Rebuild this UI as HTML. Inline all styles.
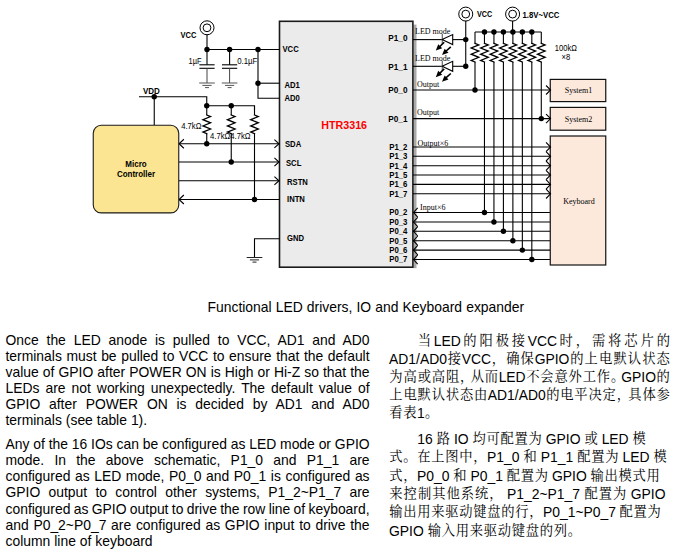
<!DOCTYPE html>
<html><head><meta charset="utf-8"><title>HTR3316 application</title>
<style>
html,body{margin:0;padding:0;background:#fff;}
body{width:676px;height:559px;position:relative;overflow:hidden;font-family:"Liberation Sans",sans-serif;color:#000;}
.l{position:absolute;white-space:pre;font-size:13.9px;line-height:1.15;}
.z{position:absolute;display:flex;align-items:flex-start;font-size:13.9px;line-height:1.15;white-space:pre;}
.z span{flex:none;display:block;}
.z span.c{width:14px;font-size:13.3px;line-height:16px;text-align:center;word-spacing:0;font-family:"Liberation Serif","Noto Serif CJK SC",serif;}
</style></head><body>
<svg width="676" height="290" viewBox="0 0 676 290" style="position:absolute;left:0;top:0">
<rect x="413.5" y="24.6" width="3" height="243.6" fill="#a9a9a9"/>
<rect x="279.5" y="21.3" width="133.39999999999998" height="245.89999999999998" fill="#ebebeb" stroke="#1a1a1a" stroke-width="1.6"/>
<circle cx="207" cy="27.8" r="7" fill="#fff" stroke="#000" stroke-width="1"/>
<circle cx="207" cy="27.8" r="3.9" fill="#fff" stroke="#000" stroke-width="1"/>
<path d="M207 34.4L207 49.5" stroke="#000" stroke-width="1.1" fill="none"/>
<path d="M207 49.5L279.5 49.5" stroke="#000" stroke-width="1.1" fill="none"/>
<path d="M207 49.5L207 64.8" stroke="#000" stroke-width="1.1" fill="none"/>
<path d="M199.4 64.8L214.6 64.8" stroke="#000" stroke-width="1.1" fill="none"/>
<path d="M199.4 68.3L214.6 68.3" stroke="#000" stroke-width="1.1" fill="none"/>
<path d="M207 68.3L207 83" stroke="#444" stroke-width="1" fill="none"/>
<path d="M199.2 83L214.8 83" stroke="#555" stroke-width="1" fill="none"/>
<path d="M202.4 85.4L211.6 85.4" stroke="#555" stroke-width="1" fill="none"/>
<path d="M205 87.6L209 87.6" stroke="#555" stroke-width="1" fill="none"/>
<path d="M229.6 49.5L229.6 64.8" stroke="#000" stroke-width="1.1" fill="none"/>
<path d="M222.0 64.8L237.2 64.8" stroke="#000" stroke-width="1.1" fill="none"/>
<path d="M222.0 68.3L237.2 68.3" stroke="#000" stroke-width="1.1" fill="none"/>
<path d="M229.6 68.3L229.6 83" stroke="#444" stroke-width="1" fill="none"/>
<path d="M221.79999999999998 83L237.4 83" stroke="#555" stroke-width="1" fill="none"/>
<path d="M225.0 85.4L234.2 85.4" stroke="#555" stroke-width="1" fill="none"/>
<path d="M227.6 87.6L231.6 87.6" stroke="#555" stroke-width="1" fill="none"/>
<circle cx="207" cy="49.5" r="2.7" fill="#000"/>
<circle cx="229.6" cy="49.5" r="2.7" fill="#000"/>
<circle cx="258" cy="49.5" r="2.7" fill="#000"/>
<path d="M258 49.5L258 98.3L279.5 98.3" stroke="#000" stroke-width="1.1" fill="none" />
<path d="M258 83.2L279.5 83.2" stroke="#000" stroke-width="1.1" fill="none"/>
<circle cx="258" cy="83.2" r="2.7" fill="#000"/>
<text transform="translate(180.5 37.9) scale(0.8174 1)" font-family="Liberation Sans" font-size="9.20" font-weight="bold" fill="#000" text-anchor="start" >VCC</text>
<text transform="translate(188.6 64.2) scale(0.8087 1)" font-family="Liberation Sans" font-size="9.20" font-weight="normal" fill="#000" text-anchor="start" >1µF</text>
<text transform="translate(237.2 64.2) scale(0.8522 1)" font-family="Liberation Sans" font-size="9.20" font-weight="normal" fill="#000" text-anchor="start" >0.1µF</text>
<path d="M139 96.75L206.75 96.75L206.75 105.75" stroke="#000" stroke-width="1.1" fill="none" />
<path d="M154.25 96.75L154.25 125" stroke="#000" stroke-width="1.1" fill="none"/>
<circle cx="154.25" cy="96.75" r="2.7" fill="#000"/>
<text transform="translate(143 94) scale(0.8696 1)" font-family="Liberation Sans" font-size="9.20" font-weight="bold" fill="#000" text-anchor="start" >VDD</text>
<path d="M206.75 105.75L254.5 105.75L254.5 110" stroke="#000" stroke-width="1.1" fill="none" />
<path d="M206.75 105.75L206.75 115" stroke="#000" stroke-width="1.1" fill="none" />
<path d="M206.75 133.7L206.75 143.75" stroke="#000" stroke-width="1.1" fill="none" />
<path d="M206.75 115L210.55 116.6L202.95 119.7L210.55 122.8L202.95 125.9L210.55 129.0L202.95 132.1L206.75 133.7" stroke="#000" stroke-width="1.3" fill="none" stroke-linejoin="miter" stroke-linecap="square"/>
<path d="M231.25 105.75L231.25 115" stroke="#000" stroke-width="1.1" fill="none" />
<path d="M231.25 133.7L231.25 162" stroke="#000" stroke-width="1.1" fill="none" />
<path d="M231.25 115L235.05 116.6L227.45 119.7L235.05 122.8L227.45 125.9L235.05 129.0L227.45 132.1L231.25 133.7" stroke="#000" stroke-width="1.3" fill="none" stroke-linejoin="miter" stroke-linecap="square"/>
<path d="M254.5 105.75L254.5 115" stroke="#000" stroke-width="1.1" fill="none" />
<path d="M254.5 133.7L254.5 199.5" stroke="#000" stroke-width="1.1" fill="none" />
<path d="M254.5 115L258.3 116.6L250.7 119.7L258.3 122.8L250.7 125.9L258.3 129.0L250.7 132.1L254.5 133.7" stroke="#000" stroke-width="1.3" fill="none" stroke-linejoin="miter" stroke-linecap="square"/>
<circle cx="206.75" cy="105.75" r="2.7" fill="#000"/>
<circle cx="231.25" cy="105.75" r="2.7" fill="#000"/>
<circle cx="206.75" cy="143.75" r="2.7" fill="#000"/>
<circle cx="231.25" cy="162" r="2.7" fill="#000"/>
<circle cx="254.5" cy="199.5" r="2.7" fill="#000"/>
<text transform="translate(181.2 129) scale(0.8348 1)" font-family="Liberation Sans" font-size="9.20" font-weight="normal" fill="#000" text-anchor="start" >4.7kΩ</text>
<text transform="translate(210 138.8) scale(0.8348 1)" font-family="Liberation Sans" font-size="9.20" font-weight="normal" fill="#000" text-anchor="start" >4.7kΩ</text>
<text transform="translate(230.3 138.8) scale(0.8348 1)" font-family="Liberation Sans" font-size="9.20" font-weight="normal" fill="#000" text-anchor="start" >4.7kΩ</text>
<path d="M178.75 143.75L279.5 143.75" stroke="#000" stroke-width="1.1" fill="none"/>
<path d="M178.75 162L279.5 162" stroke="#000" stroke-width="1.1" fill="none"/>
<path d="M178.75 180.75L279.5 180.75" stroke="#000" stroke-width="1.1" fill="none"/>
<path d="M178.75 199.5L279.5 199.5" stroke="#000" stroke-width="1.1" fill="none"/>
<path d="M183.85000000000002 139.25L179.05 143.75L183.85000000000002 148.25" stroke="#000" stroke-width="1.1" fill="none" />
<path d="M183.85000000000002 195.0L179.05 199.5L183.85000000000002 204.0" stroke="#000" stroke-width="1.1" fill="none" />
<path d="M274.4 139.55L279.0 143.75L274.4 147.95" stroke="#000" stroke-width="1.1" fill="none" />
<path d="M274.4 157.8L279.0 162L274.4 166.2" stroke="#000" stroke-width="1.1" fill="none" />
<path d="M274.4 176.55L279.0 180.75L274.4 184.95" stroke="#000" stroke-width="1.1" fill="none" />
<rect x="93.25" y="125.3" width="85.5" height="87.60000000000001" rx="8" ry="8" fill="#fce592" stroke="#1a1a1a" stroke-width="1.1"/>
<text transform="translate(136 167) scale(0.8696 1)" font-family="Liberation Sans" font-size="9.20" font-weight="bold" fill="#000" text-anchor="middle" >Micro</text>
<text transform="translate(136 177) scale(0.8696 1)" font-family="Liberation Sans" font-size="9.20" font-weight="bold" fill="#000" text-anchor="middle" >Controller</text>
<path d="M279.5 238.75L254.5 238.75L254.5 257.5" stroke="#000" stroke-width="1.1" fill="none" />
<path d="M246.7 257.5L262.3 257.5" stroke="#222" stroke-width="1" fill="none"/>
<path d="M249.9 259.9L259.1 259.9" stroke="#222" stroke-width="1" fill="none"/>
<path d="M252.5 262.1L256.5 262.1" stroke="#222" stroke-width="1" fill="none"/>
<text transform="translate(282.5 52) scale(0.8348 1)" font-family="Liberation Sans" font-size="9.20" font-weight="bold" fill="#000" text-anchor="start" >VCC</text>
<text transform="translate(284.5 87.6) scale(0.8348 1)" font-family="Liberation Sans" font-size="9.20" font-weight="bold" fill="#000" text-anchor="start" >AD1</text>
<text transform="translate(284.5 100.8) scale(0.8348 1)" font-family="Liberation Sans" font-size="9.20" font-weight="bold" fill="#000" text-anchor="start" >AD0</text>
<text transform="translate(285 147) scale(0.8348 1)" font-family="Liberation Sans" font-size="9.20" font-weight="bold" fill="#000" text-anchor="start" >SDA</text>
<text transform="translate(286 166.3) scale(0.8348 1)" font-family="Liberation Sans" font-size="9.20" font-weight="bold" fill="#000" text-anchor="start" >SCL</text>
<text transform="translate(287 184.5) scale(0.8348 1)" font-family="Liberation Sans" font-size="9.20" font-weight="bold" fill="#000" text-anchor="start" >RSTN</text>
<text transform="translate(287 201.8) scale(0.8348 1)" font-family="Liberation Sans" font-size="9.20" font-weight="bold" fill="#000" text-anchor="start" >INTN</text>
<text transform="translate(287 240.8) scale(0.8348 1)" font-family="Liberation Sans" font-size="9.20" font-weight="bold" fill="#000" text-anchor="start" >GND</text>
<text transform="translate(321.2 128.9) scale(0.9750 1)" font-family="Liberation Sans" font-size="11.00" font-weight="bold" fill="#ff0000" text-anchor="start" >HTR3316</text>
<circle cx="465.75" cy="14.1" r="7" fill="#fff" stroke="#000" stroke-width="1"/>
<circle cx="465.75" cy="14.1" r="3.9" fill="#fff" stroke="#000" stroke-width="1"/>
<path d="M465.75 20.8L465.75 66.25" stroke="#000" stroke-width="1.1" fill="none"/>
<circle cx="512.6" cy="14.1" r="7" fill="#fff" stroke="#000" stroke-width="1"/>
<circle cx="512.6" cy="14.1" r="3.9" fill="#fff" stroke="#000" stroke-width="1"/>
<path d="M512.6 20.8L512.6 32" stroke="#000" stroke-width="1.1" fill="none"/>
<text transform="translate(477 16.9) scale(0.7826 1)" font-family="Liberation Sans" font-size="9.20" font-weight="bold" fill="#000" text-anchor="start" >VCC</text>
<text transform="translate(522.5 17.8) scale(0.8435 1)" font-family="Liberation Sans" font-size="9.20" font-weight="bold" fill="#000" text-anchor="start" >1.8V~VCC</text>
<path d="M412.9 39.6L442.3 39.6" stroke="#000" stroke-width="1.1" fill="none"/>
<path d="M452.6 39.6L465.75 39.6" stroke="#000" stroke-width="1.1" fill="none"/>
<path d="M442.3 34.0L442.3 44.0" stroke="#666" stroke-width="1.2" fill="none"/>
<path d="M442.1 39.6L452.7 34.6L452.7 44.6L442.1 39.6" stroke="#000" stroke-width="1.1" fill="#fff" />
<path d="M444.2 42.2L438.3 48.0" stroke="#000" stroke-width="1.6" fill="none"/>
<path d="M435.80 50.50L438.24 44.15L442.18 48.13Z" fill="#000"/>
<path d="M450.8 46.800000000000004L444.5 52.5" stroke="#000" stroke-width="1.6" fill="none"/>
<path d="M442.00 55.00L444.63 48.72L448.44 52.82Z" fill="#000"/>
<circle cx="465.75" cy="39.6" r="2.7" fill="#000"/>
<path d="M412.9 66.3L442.3 66.3" stroke="#000" stroke-width="1.1" fill="none"/>
<path d="M452.6 66.3L465.75 66.3" stroke="#000" stroke-width="1.1" fill="none"/>
<path d="M442.3 60.699999999999996L442.3 70.7" stroke="#666" stroke-width="1.2" fill="none"/>
<path d="M442.1 66.3L452.7 61.3L452.7 71.3L442.1 66.3" stroke="#000" stroke-width="1.1" fill="#fff" />
<path d="M444.2 68.89999999999999L438.3 74.7" stroke="#000" stroke-width="1.6" fill="none"/>
<path d="M435.80 77.20L438.24 70.85L442.18 74.83Z" fill="#000"/>
<path d="M450.8 73.5L444.5 79.2" stroke="#000" stroke-width="1.6" fill="none"/>
<path d="M442.00 81.70L444.63 75.42L448.44 79.52Z" fill="#000"/>
<circle cx="465.75" cy="66.3" r="2.7" fill="#000"/>
<path d="M475.0 32L541.29 32" stroke="#000" stroke-width="1.1" fill="none"/>
<path d="M475.0 32L475.0 43.3" stroke="#000" stroke-width="1.1" fill="none" />
<path d="M475.0 62.0L475.0 90" stroke="#000" stroke-width="1.1" fill="none" />
<path d="M475.0 43.3L478.8 44.9L471.2 48.0L478.8 51.1L471.2 54.2L478.8 57.3L471.2 60.4L475.0 62.0" stroke="#000" stroke-width="1.3" fill="none" stroke-linejoin="miter" stroke-linecap="square"/>
<circle cx="475.0" cy="90" r="2.7" fill="#000"/>
<path d="M484.47 32L484.47 43.3" stroke="#000" stroke-width="1.1" fill="none" />
<path d="M484.47 62.0L484.47 212.5" stroke="#000" stroke-width="1.1" fill="none" />
<path d="M484.47 43.3L488.27000000000004 44.9L480.67 48.0L488.27000000000004 51.1L480.67 54.2L488.27000000000004 57.3L480.67 60.4L484.47 62.0" stroke="#000" stroke-width="1.3" fill="none" stroke-linejoin="miter" stroke-linecap="square"/>
<circle cx="484.47" cy="212.5" r="2.7" fill="#000"/>
<circle cx="484.47" cy="32" r="2.7" fill="#000"/>
<path d="M493.94 32L493.94 43.3" stroke="#000" stroke-width="1.1" fill="none" />
<path d="M493.94 62.0L493.94 222" stroke="#000" stroke-width="1.1" fill="none" />
<path d="M493.94 43.3L497.74 44.9L490.14 48.0L497.74 51.1L490.14 54.2L497.74 57.3L490.14 60.4L493.94 62.0" stroke="#000" stroke-width="1.3" fill="none" stroke-linejoin="miter" stroke-linecap="square"/>
<circle cx="493.94" cy="222" r="2.7" fill="#000"/>
<circle cx="493.94" cy="32" r="2.7" fill="#000"/>
<path d="M503.41 32L503.41 43.3" stroke="#000" stroke-width="1.1" fill="none" />
<path d="M503.41 62.0L503.41 231.3" stroke="#000" stroke-width="1.1" fill="none" />
<path d="M503.41 43.3L507.21000000000004 44.9L499.61 48.0L507.21000000000004 51.1L499.61 54.2L507.21000000000004 57.3L499.61 60.4L503.41 62.0" stroke="#000" stroke-width="1.3" fill="none" stroke-linejoin="miter" stroke-linecap="square"/>
<circle cx="503.41" cy="231.3" r="2.7" fill="#000"/>
<circle cx="503.41" cy="32" r="2.7" fill="#000"/>
<path d="M512.88 32L512.88 43.3" stroke="#000" stroke-width="1.1" fill="none" />
<path d="M512.88 62.0L512.88 240.7" stroke="#000" stroke-width="1.1" fill="none" />
<path d="M512.88 43.3L516.68 44.9L509.08 48.0L516.68 51.1L509.08 54.2L516.68 57.3L509.08 60.4L512.88 62.0" stroke="#000" stroke-width="1.3" fill="none" stroke-linejoin="miter" stroke-linecap="square"/>
<circle cx="512.88" cy="240.7" r="2.7" fill="#000"/>
<circle cx="512.88" cy="32" r="2.7" fill="#000"/>
<path d="M522.35 32L522.35 43.3" stroke="#000" stroke-width="1.1" fill="none" />
<path d="M522.35 62.0L522.35 250.1" stroke="#000" stroke-width="1.1" fill="none" />
<path d="M522.35 43.3L526.15 44.9L518.5500000000001 48.0L526.15 51.1L518.5500000000001 54.2L526.15 57.3L518.5500000000001 60.4L522.35 62.0" stroke="#000" stroke-width="1.3" fill="none" stroke-linejoin="miter" stroke-linecap="square"/>
<circle cx="522.35" cy="250.1" r="2.7" fill="#000"/>
<circle cx="522.35" cy="32" r="2.7" fill="#000"/>
<path d="M531.82 32L531.82 43.3" stroke="#000" stroke-width="1.1" fill="none" />
<path d="M531.82 62.0L531.82 259.5" stroke="#000" stroke-width="1.1" fill="none" />
<path d="M531.82 43.3L535.62 44.9L528.0200000000001 48.0L535.62 51.1L528.0200000000001 54.2L535.62 57.3L528.0200000000001 60.4L531.82 62.0" stroke="#000" stroke-width="1.3" fill="none" stroke-linejoin="miter" stroke-linecap="square"/>
<circle cx="531.82" cy="259.5" r="2.7" fill="#000"/>
<circle cx="531.82" cy="32" r="2.7" fill="#000"/>
<path d="M541.29 32L541.29 43.3" stroke="#000" stroke-width="1.1" fill="none" />
<path d="M541.29 62.0L541.29 118.6" stroke="#000" stroke-width="1.1" fill="none" />
<path d="M541.29 43.3L545.0899999999999 44.9L537.49 48.0L545.0899999999999 51.1L537.49 54.2L545.0899999999999 57.3L537.49 60.4L541.29 62.0" stroke="#000" stroke-width="1.3" fill="none" stroke-linejoin="miter" stroke-linecap="square"/>
<circle cx="541.29" cy="118.6" r="2.7" fill="#000"/>
<path d="M412.9 90L550.25 90" stroke="#000" stroke-width="1.1" fill="none"/>
<path d="M412.9 118.6L550.25 118.6" stroke="#000" stroke-width="1.1" fill="none"/>
<path d="M412.9 147L550.25 147" stroke="#000" stroke-width="1.1" fill="none"/>
<path d="M412.9 156.3L550.25 156.3" stroke="#000" stroke-width="1.1" fill="none"/>
<path d="M412.9 165.7L550.25 165.7" stroke="#000" stroke-width="1.1" fill="none"/>
<path d="M412.9 175L550.25 175" stroke="#000" stroke-width="1.1" fill="none"/>
<path d="M412.9 184.4L550.25 184.4" stroke="#000" stroke-width="1.1" fill="none"/>
<path d="M412.9 193.8L550.25 193.8" stroke="#000" stroke-width="1.1" fill="none"/>
<path d="M412.9 212.5L550.25 212.5" stroke="#000" stroke-width="1.1" fill="none"/>
<path d="M412.9 222L550.25 222" stroke="#000" stroke-width="1.1" fill="none"/>
<path d="M412.9 231.3L550.25 231.3" stroke="#000" stroke-width="1.1" fill="none"/>
<path d="M412.9 240.7L550.25 240.7" stroke="#000" stroke-width="1.1" fill="none"/>
<path d="M412.9 250.1L550.25 250.1" stroke="#000" stroke-width="1.1" fill="none"/>
<path d="M412.9 259.5L550.25 259.5" stroke="#000" stroke-width="1.1" fill="none"/>
<rect x="550.25" y="79.4" width="55.5" height="22.19999999999999" fill="#fde9dc" stroke="#111" stroke-width="1.2"/>
<rect x="550.25" y="107.4" width="55.5" height="22.799999999999983" fill="#fde9dc" stroke="#111" stroke-width="1.2"/>
<rect x="550.25" y="136" width="55.5" height="129" fill="#fde9dc" stroke="#111" stroke-width="1.2"/>
<path d="M546.05 85.5L550.55 90L546.05 94.5" stroke="#000" stroke-width="1.1" fill="none" />
<path d="M546.05 114.1L550.55 118.6L546.05 123.1" stroke="#000" stroke-width="1.1" fill="none" />
<path d="M546.05 142.3L550.55 147L546.05 151.7" stroke="#000" stroke-width="1.1" fill="none" />
<path d="M546.05 151.60000000000002L550.55 156.3L546.05 161.0" stroke="#000" stroke-width="1.1" fill="none" />
<path d="M546.05 161.0L550.55 165.7L546.05 170.39999999999998" stroke="#000" stroke-width="1.1" fill="none" />
<path d="M546.05 170.3L550.55 175L546.05 179.7" stroke="#000" stroke-width="1.1" fill="none" />
<path d="M546.05 179.70000000000002L550.55 184.4L546.05 189.1" stroke="#000" stroke-width="1.1" fill="none" />
<path d="M546.05 189.10000000000002L550.55 193.8L546.05 198.5" stroke="#000" stroke-width="1.1" fill="none" />
<path d="M417.7 207.8L413.5 212.5L417.7 217.2" stroke="#000" stroke-width="1.1" fill="none" />
<path d="M417.7 217.3L413.5 222L417.7 226.7" stroke="#000" stroke-width="1.1" fill="none" />
<path d="M417.7 226.60000000000002L413.5 231.3L417.7 236.0" stroke="#000" stroke-width="1.1" fill="none" />
<path d="M417.7 236.0L413.5 240.7L417.7 245.39999999999998" stroke="#000" stroke-width="1.1" fill="none" />
<path d="M417.7 245.4L413.5 250.1L417.7 254.79999999999998" stroke="#000" stroke-width="1.1" fill="none" />
<path d="M417.7 254.8L413.5 259.5L417.7 264.2" stroke="#000" stroke-width="1.1" fill="none" />
<text transform="translate(388.3 40.8) scale(0.8696 1)" font-family="Liberation Sans" font-size="9.43" font-weight="bold" fill="#000" text-anchor="start" >P1_0</text>
<text transform="translate(388.3 70) scale(0.8696 1)" font-family="Liberation Sans" font-size="9.43" font-weight="bold" fill="#000" text-anchor="start" >P1_1</text>
<text transform="translate(388.3 93) scale(0.8696 1)" font-family="Liberation Sans" font-size="9.43" font-weight="bold" fill="#000" text-anchor="start" >P0_0</text>
<text transform="translate(388.3 121.8) scale(0.8696 1)" font-family="Liberation Sans" font-size="9.43" font-weight="bold" fill="#000" text-anchor="start" >P0_1</text>
<text transform="translate(389.3 149.9) scale(0.8261 1)" font-family="Liberation Sans" font-size="9.43" font-weight="bold" fill="#000" text-anchor="start" >P1_2</text>
<text transform="translate(389.3 159.2) scale(0.8261 1)" font-family="Liberation Sans" font-size="9.43" font-weight="bold" fill="#000" text-anchor="start" >P1_3</text>
<text transform="translate(389.3 168.6) scale(0.8261 1)" font-family="Liberation Sans" font-size="9.43" font-weight="bold" fill="#000" text-anchor="start" >P1_4</text>
<text transform="translate(389.3 177.9) scale(0.8261 1)" font-family="Liberation Sans" font-size="9.43" font-weight="bold" fill="#000" text-anchor="start" >P1_5</text>
<text transform="translate(389.3 187.3) scale(0.8261 1)" font-family="Liberation Sans" font-size="9.43" font-weight="bold" fill="#000" text-anchor="start" >P1_6</text>
<text transform="translate(389.3 196.7) scale(0.8261 1)" font-family="Liberation Sans" font-size="9.43" font-weight="bold" fill="#000" text-anchor="start" >P1_7</text>
<text transform="translate(389.3 215.4) scale(0.8261 1)" font-family="Liberation Sans" font-size="9.43" font-weight="bold" fill="#000" text-anchor="start" >P0_2</text>
<text transform="translate(389.3 224.9) scale(0.8261 1)" font-family="Liberation Sans" font-size="9.43" font-weight="bold" fill="#000" text-anchor="start" >P0_3</text>
<text transform="translate(389.3 234.2) scale(0.8261 1)" font-family="Liberation Sans" font-size="9.43" font-weight="bold" fill="#000" text-anchor="start" >P0_4</text>
<text transform="translate(389.3 243.6) scale(0.8261 1)" font-family="Liberation Sans" font-size="9.43" font-weight="bold" fill="#000" text-anchor="start" >P0_5</text>
<text transform="translate(389.3 253.0) scale(0.8261 1)" font-family="Liberation Sans" font-size="9.43" font-weight="bold" fill="#000" text-anchor="start" >P0_6</text>
<text transform="translate(389.3 262.4) scale(0.8261 1)" font-family="Liberation Sans" font-size="9.43" font-weight="bold" fill="#000" text-anchor="start" >P0_7</text>
<text transform="translate(415 33.8) scale(1.0000 1)" font-family="Liberation Serif" font-size="8.00" font-weight="normal" fill="#000" text-anchor="start" >LED mode</text>
<text transform="translate(415 61.2) scale(1.0000 1)" font-family="Liberation Serif" font-size="8.00" font-weight="normal" fill="#000" text-anchor="start" >LED mode</text>
<text transform="translate(417 87.2) scale(1.0000 1)" font-family="Liberation Serif" font-size="8.00" font-weight="normal" fill="#000" text-anchor="start" >Output</text>
<text transform="translate(417 115) scale(1.0000 1)" font-family="Liberation Serif" font-size="8.00" font-weight="normal" fill="#000" text-anchor="start" >Output</text>
<text transform="translate(417.5 145.5) scale(1.0000 1)" font-family="Liberation Serif" font-size="8.00" font-weight="normal" fill="#000" text-anchor="start" >Output×6</text>
<text transform="translate(420 209.5) scale(1.0000 1)" font-family="Liberation Serif" font-size="8.00" font-weight="normal" fill="#000" text-anchor="start" >Input×6</text>
<text transform="translate(578.5 93) scale(1.0000 1)" font-family="Liberation Serif" font-size="8.00" font-weight="normal" fill="#000" text-anchor="middle" >System1</text>
<text transform="translate(578.5 122) scale(1.0000 1)" font-family="Liberation Serif" font-size="8.00" font-weight="normal" fill="#000" text-anchor="middle" >System2</text>
<text transform="translate(579 203.8) scale(1.0000 1)" font-family="Liberation Serif" font-size="8.00" font-weight="normal" fill="#000" text-anchor="middle" >Keyboard</text>
<text transform="translate(554.8 51.1) scale(0.8217 1)" font-family="Liberation Sans" font-size="9.20" font-weight="normal" fill="#000" text-anchor="start" >100kΩ</text>
<text transform="translate(561.5 59.6) scale(0.8261 1)" font-family="Liberation Sans" font-size="9.20" font-weight="normal" fill="#000" text-anchor="start" >×8</text>
</svg>
<div class="l" style="left:5.5px;top:332.19px;word-spacing:3.977px">Once the LED anode is pulled to VCC, AD1 and AD0</div><div class="l" style="left:5.5px;top:348.19px;word-spacing:0.734px">terminals must be pulled to VCC to ensure that the default</div><div class="l" style="left:5.5px;top:364.19px;word-spacing:0.232px">value of GPIO after POWER ON is High or Hi-Z so that the</div><div class="l" style="left:5.5px;top:380.19px;word-spacing:2.138px">LEDs are not working unexpectedly. The default value of</div><div class="l" style="left:5.5px;top:396.19px;word-spacing:4.940px">GPIO after POWER ON is decided by AD1 and AD0</div><div class="l" style="left:5.5px;top:412.19px;word-spacing:0.108px">terminals (see table 1).</div><div class="l" style="left:5.5px;top:435.89px;word-spacing:-0.032px">Any of the 16 IOs can be configured as LED mode or GPIO</div><div class="l" style="left:5.5px;top:452.09px;word-spacing:6.418px">mode. In the above schematic, P1_0 and P1_1 are</div><div class="l" style="left:5.5px;top:468.29px;word-spacing:0.725px">configured as LED mode, P0_0 and P0_1 is configured as</div><div class="l" style="left:5.5px;top:484.49px;word-spacing:4.415px">GPIO output to control other systems, P1_2~P1_7 are</div><div class="l" style="left:5.5px;top:500.69px;word-spacing:-0.503px">configured as GPIO output to drive the row line of keyboard,</div><div class="l" style="left:5.5px;top:516.89px;word-spacing:0.854px">and P0_2~P0_7 are configured as GPIO input to drive the</div><div class="l" style="left:5.5px;top:533.09px;word-spacing:0.098px">column line of keyboard</div><div class="l" style="left:207.5px;top:298.89px;word-spacing:0.260px">Functional LED drivers, IO and Keyboard expander</div><div class="z" style="left:417.5px;top:333.49px;width:252.8px;justify-content:space-between;"><span class="c">当</span><span>LED</span><span class="c">的</span><span class="c">阳</span><span class="c">极</span><span class="c">接</span><span>VCC</span><span class="c">时</span><span class="c">，</span><span class="c">需</span><span class="c">将</span><span class="c">芯</span><span class="c">片</span><span class="c">的</span></div><div class="z" style="left:389px;top:351.29px;width:281.3px;justify-content:space-between;"><span>AD1/AD0</span><span class="c">接</span><span>VCC</span><span class="c">，</span><span class="c">确</span><span class="c">保</span><span>GPIO</span><span class="c">的</span><span class="c">上</span><span class="c">电</span><span class="c">默</span><span class="c">认</span><span class="c">状</span><span class="c">态</span></div><div class="z" style="left:389px;top:369.09px;width:281.3px;justify-content:space-between;"><span class="c">为</span><span class="c">高</span><span class="c">或</span><span class="c">高</span><span class="c">阻</span><span class="c" style="margin-right:-3.5px">，</span><span class="c">从</span><span class="c">而</span><span>LED</span><span class="c">不</span><span class="c">会</span><span class="c">意</span><span class="c">外</span><span class="c">工</span><span class="c">作</span><span class="c" style="margin-right:-3.5px">。</span><span>GPIO</span><span class="c">的</span></div><div class="z" style="left:389px;top:386.89px;width:281.3px;justify-content:space-between;"><span class="c">上</span><span class="c">电</span><span class="c">默</span><span class="c">认</span><span class="c">状</span><span class="c">态</span><span class="c">由</span><span>AD1/AD0</span><span class="c">的</span><span class="c">电</span><span class="c">平</span><span class="c">决</span><span class="c">定</span><span class="c" style="margin-right:-2.5px">，</span><span class="c">具</span><span class="c">体</span><span class="c">参</span></div><div class="z" style="left:389px;top:404.69px;"><span class="c">看</span><span class="c">表</span><span>1</span><span class="c">。</span></div><div class="z" style="left:417.3px;top:430.94px;word-spacing:-0.281px;width:229.0px;justify-content:space-between;"><span>16 </span><span class="c">路</span><span> IO </span><span class="c">均</span><span class="c">可</span><span class="c">配</span><span class="c">置</span><span class="c">为</span><span> GPIO </span><span class="c">或</span><span> LED </span><span class="c">模</span></div><div class="z" style="left:389px;top:449.29px;word-spacing:-0.195px;width:278.3px;justify-content:space-between;"><span class="c">式</span><span class="c">。</span><span class="c">在</span><span class="c">上</span><span class="c">图</span><span class="c">中</span><span class="c">，</span><span>P1_0 </span><span class="c">和</span><span> P1_1 </span><span class="c">配</span><span class="c">置</span><span class="c">为</span><span> LED </span><span class="c">模</span></div><div class="z" style="left:389px;top:467.64px;word-spacing:-0.338px;width:271.3px;justify-content:space-between;"><span class="c">式</span><span class="c">，</span><span>P0_0 </span><span class="c">和</span><span> P0_1 </span><span class="c">配</span><span class="c">置</span><span class="c">为</span><span> GPIO </span><span class="c">输</span><span class="c">出</span><span class="c">模</span><span class="c">式</span><span class="c">用</span></div><div class="z" style="left:389px;top:485.99px;width:276.5px;justify-content:space-between;"><span class="c">来</span><span class="c">控</span><span class="c">制</span><span class="c">其</span><span class="c">他</span><span class="c">系</span><span class="c">统</span><span class="c">，</span><span> P1_2~P1_7 </span><span class="c">配</span><span class="c">置</span><span class="c">为</span><span> GPIO</span></div><div class="z" style="left:389px;top:504.34px;word-spacing:-0.605px;width:272.3px;justify-content:space-between;"><span class="c">输</span><span class="c">出</span><span class="c">用</span><span class="c">来</span><span class="c">驱</span><span class="c">动</span><span class="c">键</span><span class="c">盘</span><span class="c">的</span><span class="c">行</span><span class="c">，</span><span>P0_1~P0_7 </span><span class="c">配</span><span class="c">置</span><span class="c">为</span></div><div class="z" style="left:389px;top:522.69px;word-spacing:-0.119px;width:192.5px;justify-content:space-between;"><span>GPIO </span><span class="c">输</span><span class="c">入</span><span class="c">用</span><span class="c">来</span><span class="c">驱</span><span class="c">动</span><span class="c">键</span><span class="c">盘</span><span class="c">的</span><span class="c">列</span><span class="c">。</span></div>
</body></html>
